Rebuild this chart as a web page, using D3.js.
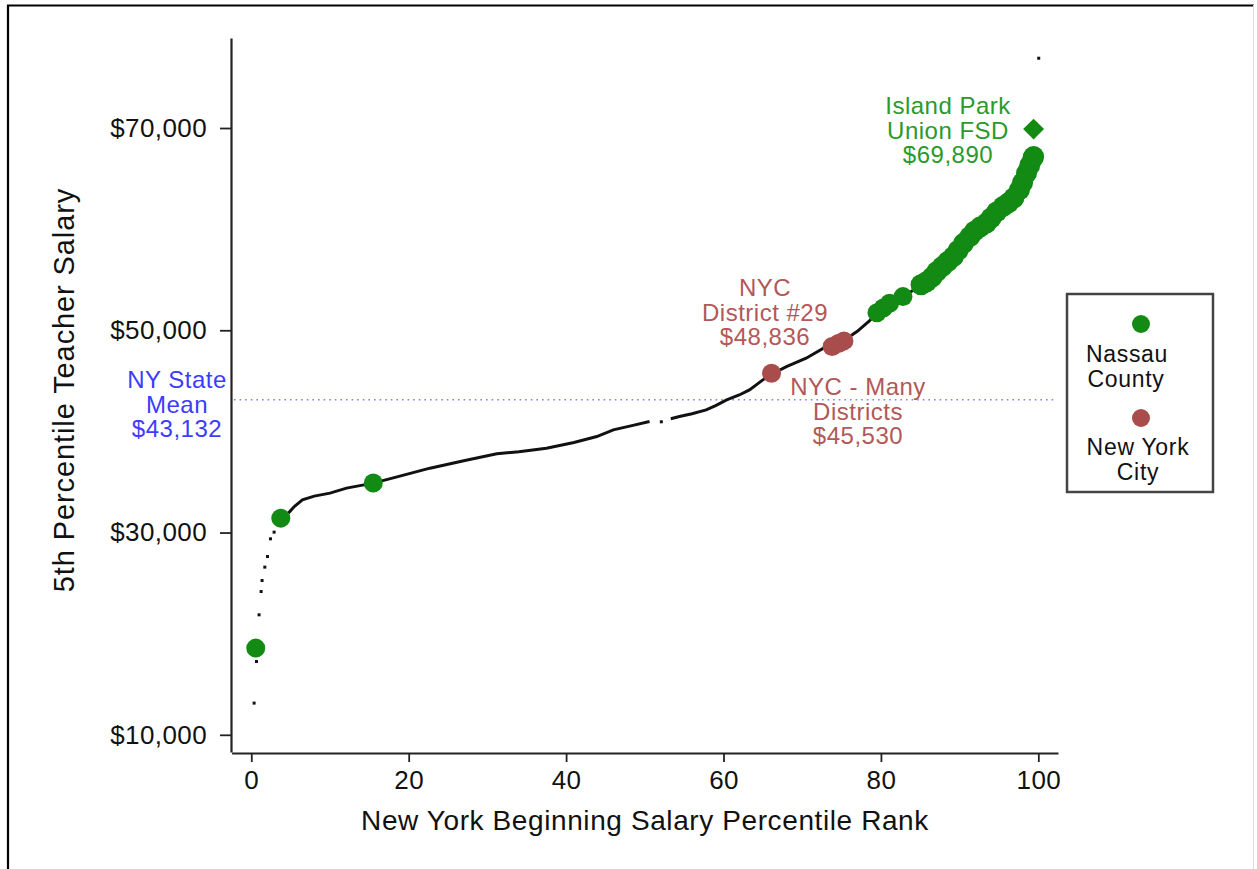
<!DOCTYPE html>
<html>
<head>
<meta charset="utf-8">
<script src="https://cdn.jsdelivr.net/npm/d3@7"></script>
<style>
  body { margin: 0; background: #fff; }
  svg text { font-family: "Liberation Sans", Arial, sans-serif; }
</style>
</head>
<body>
<svg id="chart" width="1257" height="869"></svg>
<script>
// ranks / salaries
const curveRank = [4.7, 5.5, 6.5, 8, 10, 12.1, 15.5, 19, 22.7, 27, 31.2, 34, 37.5, 41, 43.9, 46.0, 48.5, 50.6, 51.0,
  53.3, 54.4, 56, 57.8, 59, 60.4, 62, 63.3, 65.0, 66.1, 68.0, 70.5, 72.7, 73.8, 75.3, 77, 78.5, 79.5, 81.1, 82.8, 84.2,
  85.8, 87.1, 89.2, 91.3, 93.4, 95.5, 97.6, 98.5, 99.3];
const curveSalary = [31918, 32600, 33233, 33600, 33896, 34390, 34884, 35600, 36366, 37100, 37780, 38000, 38344, 38900, 39490, 40153, 40600, 40974, null,
  41250, 41468, 41750, 42130, 42550, 43120, 43600, 44109, 45097, 45650, 46411, 47240, 48228, 48400, 49000, 49900, 50900, 51740, 52670, 53330, 54000,
  54657, 55804, 57287, 59264, 60589, 62230, 63880, 65532, 67173];

const looseRank = [0.36, 0.66, 0.99, 1.25, 1.37, 1.72, 2.06, 2.44, 2.9, 52.1, 100.05];
const looseSalary = [13134, 17247, 21864, 24167, 25254, 26580, 27627, 29377, 30039, 40950, 76900];

const nassauRank = [0.57, 3.75, 15.5, 79.5, 80.3, 81.1, 82.8, 85.1, 85.8, 86.5, 87.1, 87.8, 88.5, 89.2, 89.8, 90.5, 91.3, 91.9,
  92.6, 93.4, 94.0, 94.7, 95.5, 96.2, 96.9, 97.6, 98.0, 98.5, 98.9, 99.3, 99.4];
const nassauSalary = [18572, 31423, 34900, 51740, 52200, 52670, 53330, 54500, 54800, 55250, 55804, 56300, 56800, 57287, 57900, 58600, 59264, 59800,
  60200, 60589, 61100, 61700, 62230, 62600, 63100, 63880, 64600, 65532, 66300, 67000, 67173];

const nycRank = [66.1, 73.8, 74.6, 75.3];
const nycSalary = [45750, 48400, 48700, 48950];

const islandPark = {rank: 99.4, salary: 69890};
const stateMean = 43132;

const yTicks = [10000, 30000, 50000, 70000];
const xTicks = [0, 20, 40, 60, 80, 100];

const green = "#138a13";
const red = "#a94c4c";

const svg = d3.select("#chart");

// outer frame
svg.append("path").attr("d", "M8,870 V5.5 H1254").attr("fill", "none").attr("stroke", "#000").attr("stroke-width", 2.2);
svg.append("line").attr("x1", 1253.5).attr("x2", 1253.5).attr("y1", 5).attr("y2", 869).attr("stroke", "#ddd").attr("stroke-width", 1);

const x = d3.scaleLinear().domain([-2.5, 102.5]).range([231.6, 1058]);
const y = d3.scaleLinear().domain([8300, 78900]).range([752, 38]);

// axes
const yAxis = svg.append("g").attr("transform", "translate(231,0)")
  .call(d3.axisLeft(y).tickValues(yTicks).tickSize(11).tickSizeOuter(0).tickPadding(13)
    .tickFormat(d => "$" + d3.format(",")(d)));
const xAxis = svg.append("g").attr("transform", "translate(0,753)")
  .call(d3.axisBottom(x).tickValues(xTicks).tickSize(9).tickSizeOuter(0).tickPadding(9));
[yAxis, xAxis].forEach(a => {
  a.select(".domain").attr("stroke", "#222").attr("stroke-width", 2.2);
  a.selectAll(".tick line").attr("stroke", "#222").attr("stroke-width", 1.8);
  a.selectAll(".tick text").attr("fill", "#111").style("font-size", "26px").style("letter-spacing", "0.4px");
});

svg.append("text").attr("x", 645).attr("y", 830).attr("text-anchor", "middle")
  .style("font-size", "28px").style("letter-spacing", "0.6px").attr("fill", "#111")
  .text("New York Beginning Salary Percentile Rank");
svg.append("text").attr("transform", "translate(74,390) rotate(-90)").attr("text-anchor", "middle")
  .style("font-size", "29px").style("letter-spacing", "0.9px").attr("fill", "#111")
  .text("5th Percentile Teacher Salary");

// state mean line
svg.append("line").attr("x1", 234).attr("x2", 1057).attr("y1", y(stateMean)).attr("y2", y(stateMean))
  .attr("stroke", "#7f7fff").attr("stroke-width", 1.6).attr("stroke-dasharray", "1.6,4");

// curve of all districts
const curve = curveRank.map((r, i) => ({r, s: curveSalary[i]}));
svg.append("path").datum(curve)
  .attr("d", d3.line().defined(d => d.s != null).x(d => x(d.r)).y(d => y(d.s)))
  .attr("fill", "none").attr("stroke", "#111").attr("stroke-width", 3);
svg.selectAll("rect.loose").data(looseRank.map((r, i) => ({r, s: looseSalary[i]})))
  .join("rect").attr("class", "loose")
  .attr("x", d => x(d.r) - 1.5).attr("y", d => y(d.s) - 1.5).attr("width", 3).attr("height", 3).attr("fill", "#111");

// highlighted districts
svg.selectAll("circle.nassau").data(nassauRank.map((r, i) => ({r, s: nassauSalary[i]})))
  .join("circle").attr("class", "nassau")
  .attr("cx", d => x(d.r)).attr("cy", d => y(d.s)).attr("r", d => d.r > 85 ? 10.5 : 9.5).attr("fill", green);
svg.selectAll("circle.nyc").data(nycRank.map((r, i) => ({r, s: nycSalary[i]})))
  .join("circle").attr("class", "nyc")
  .attr("cx", d => x(d.r)).attr("cy", d => y(d.s)).attr("r", 9.5).attr("fill", red);
svg.append("path").attr("d", d3.symbol(d3.symbolDiamond2, 280)())
  .attr("transform", `translate(${x(islandPark.rank)},${y(islandPark.salary)})`).attr("fill", green);

// annotations
function note(lines, cx, cy, color) {
  const t = svg.append("text").attr("text-anchor", "middle").attr("fill", color)
    .style("font-size", "24px").style("letter-spacing", "0.5px");
  lines.forEach((l, i) => t.append("tspan").attr("x", cx).attr("y", cy + i * 24.5).text(l));
}
note(["Island Park", "Union FSD", "$69,890"], 948, 114, "#2a9a2a");
note(["NYC", "District #29", "$48,836"], 765, 296, "#b25858");
note(["NYC - Many", "Districts", "$45,530"], 858, 395, "#b25858");
note(["NY State", "Mean", "$43,132"], 177, 388, "#3c3cff");

// legend
const legend = svg.append("g");
legend.append("rect").attr("x", 1067).attr("y", 294).attr("width", 146).attr("height", 198)
  .attr("fill", "#fff").attr("stroke", "#444").attr("stroke-width", 2.5);
legend.append("circle").attr("cx", 1141).attr("cy", 324).attr("r", 9).attr("fill", green);
legend.append("circle").attr("cx", 1141).attr("cy", 418).attr("r", 9).attr("fill", red);
const legendText = [["Nassau", 1127, 362], ["County", 1126, 387], ["New York", 1138, 455], ["City", 1138, 480]];
legend.selectAll("text").data(legendText).join("text")
  .attr("x", d => d[1]).attr("y", d => d[2]).attr("text-anchor", "middle")
  .style("font-size", "23px").style("letter-spacing", "0.7px").attr("fill", "#111").text(d => d[0]);
</script>
</body>
</html>
